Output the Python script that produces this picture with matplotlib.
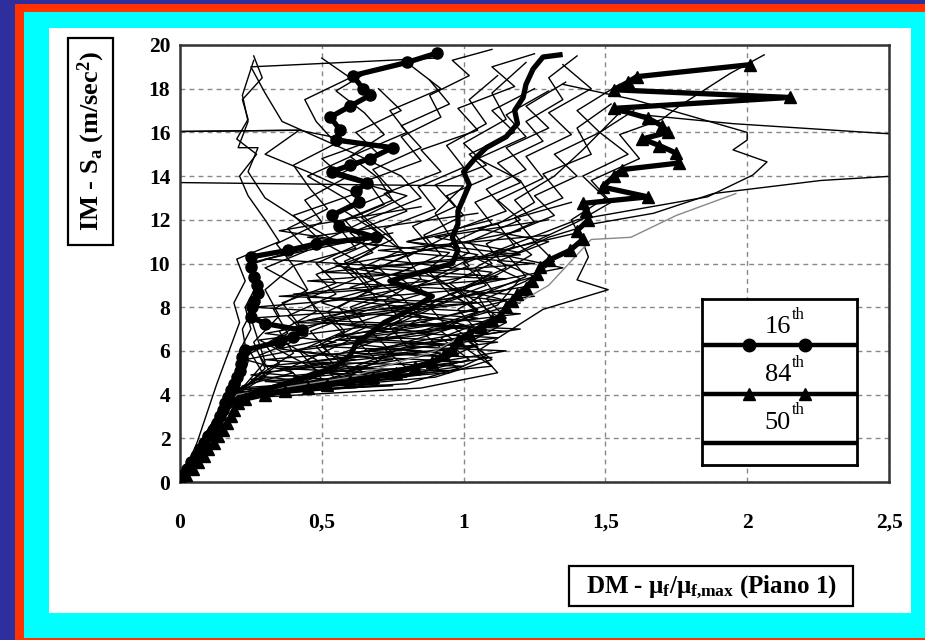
import matplotlib
matplotlib.use('Agg')
import matplotlib.pyplot as plt
from matplotlib.patches import Rectangle

plt.rcParams['font.family'] = ['Liberation Serif', 'DejaVu Serif']
plt.rcParams['mathtext.fontset'] = 'custom'
plt.rcParams['mathtext.rm'] = 'Liberation Serif:bold'
plt.rcParams['mathtext.it'] = 'Liberation Serif:bold'
plt.rcParams['mathtext.bf'] = 'Liberation Serif:bold'

# ---------------- data ----------------
x_ticks = [0, 0.5, 1, 1.5, 2, 2.5]
x_tick_labels = ['0', '0,5', '1', '1,5', '2', '2,5']
y_ticks = [0, 2, 4, 6, 8, 10, 12, 14, 16, 18, 20]
y_tick_labels = ['0', '2', '4', '6', '8', '10', '12', '14', '16', '18', '20']

# percentile curves (DM on x, IM on y)
p16_y = [0, 0.3, 0.6, 0.9, 1.2, 1.5, 1.8, 2.1, 2.4, 2.7, 3.0, 3.3, 3.6, 3.9, 4.2, 4.5, 4.8, 5.1, 5.4, 5.7,
         6.05, 6.4, 6.65, 6.95, 7.25, 7.55, 8.0, 8.3, 8.65, 9.0, 9.4, 9.85, 10.3, 10.6, 10.9, 11.2, 11.7, 12.2,
         12.8, 13.3, 13.7, 14.2, 14.5, 14.8, 15.3, 15.65, 16.1, 16.7, 17.2, 17.7, 18.0, 18.6, 19.2, 19.63]
p16_x = [0, 0.01, 0.025, 0.04, 0.055, 0.07, 0.085, 0.10, 0.115, 0.13, 0.14, 0.15, 0.16, 0.17, 0.18, 0.19, 0.20,
         0.21, 0.215, 0.22, 0.23, 0.35, 0.40, 0.43, 0.30, 0.25, 0.255, 0.26, 0.275, 0.27, 0.26, 0.25, 0.25, 0.38,
         0.48, 0.69, 0.56, 0.535, 0.63, 0.62, 0.66, 0.535, 0.60, 0.67, 0.75, 0.55, 0.565, 0.53, 0.60, 0.67, 0.645,
         0.61, 0.80, 0.906]

p50_y = [0, 1.0, 2.0, 3.0, 3.8, 4.3, 4.8, 5.3, 5.8, 6.3, 6.8, 7.3, 7.8, 8.5, 9.2, 9.6, 10.0, 10.6, 11.2, 11.8,
         12.4, 13.0, 13.6, 14.2, 14.8, 15.3, 15.8, 16.4, 17.0, 17.6, 18.2, 18.9, 19.45, 19.55]
p50_x = [0, 0.045, 0.09, 0.14, 0.2, 0.32, 0.45, 0.55, 0.60, 0.62, 0.67, 0.72, 0.80, 0.89, 0.74, 0.85, 0.96, 0.98,
         0.96, 0.98, 0.98, 1.0, 1.02, 1.0, 1.04, 1.08, 1.15, 1.19, 1.18, 1.21, 1.22, 1.245, 1.28, 1.34]

p84_y = [0, 0.3, 0.6, 0.9, 1.2, 1.5, 1.8, 2.1, 2.4, 2.7, 3.0, 3.3, 3.6, 3.8, 4.0, 4.15, 4.3, 4.45, 4.6, 4.8,
         5.0, 5.25, 5.5, 5.8, 6.1, 6.5, 6.8, 7.1, 7.4, 7.6, 8.0, 8.3, 8.6, 8.9, 9.2, 9.5, 9.85, 10.15, 10.6, 11.1,
         11.5, 12.0, 12.4, 12.75, 13.05, 13.5, 14.0, 14.3, 14.6, 15.05, 15.4, 15.7, 16.0, 16.3, 16.65, 17.1, 17.6,
         17.95, 18.3, 18.55, 19.1]
p84_x = [0, 0.02, 0.045, 0.065, 0.085, 0.10, 0.12, 0.135, 0.15, 0.165, 0.18, 0.19, 0.205, 0.23, 0.30, 0.37, 0.45,
         0.52, 0.60, 0.68, 0.76, 0.83, 0.89, 0.93, 0.96, 0.98, 1.02, 1.06, 1.10, 1.13, 1.15, 1.17, 1.19, 1.22, 1.24,
         1.26, 1.27, 1.30, 1.375, 1.42, 1.40, 1.44, 1.43, 1.42, 1.65, 1.49, 1.53, 1.56, 1.76, 1.75, 1.69, 1.63, 1.72,
         1.70, 1.65, 1.53, 2.15, 1.53, 1.58, 1.61, 2.01]

# individual IDA curves (thin lines)
t01_x = [0, 0.10, 0.19, 0.42, 0.58, 0.50, 0.66, 0.60, 0.78, 0.70, 0.88, 0.82, 0.97, 0.90, 1.08, 1.00, 1.15, 1.10, 1.22]
t01_y = [0, 2.0, 3.9, 4.5, 5.3, 6.2, 7.1, 8.0, 8.9, 9.8, 10.8, 11.7, 12.6, 13.6, 14.5, 15.5, 16.6, 17.8, 19.2]
t02_x = [0, 0.09, 0.18, 0.65, 0.90, 1.05, 0.95, 1.12, 1.20, 1.05, 1.25, 1.18, 1.35, 1.28, 1.45, 1.40, 1.52]
t02_y = [0, 2.0, 4.0, 4.6, 5.4, 6.3, 7.2, 8.1, 9.3, 10.2, 11.0, 12.1, 13.0, 14.1, 15.0, 16.2, 17.3]
t03_x = [0, 0.08, 0.17, 0.30, 0.25, 0.38, 0.33, 0.45, 0.40, 0.62, 0.55, 0.72, 0.66, 0.85, 0.78, 0.92, 0.88, 1.02, 0.96, 1.10]
t03_y = [0, 2.0, 3.8, 4.8, 5.9, 6.8, 7.9, 8.8, 9.9, 10.7, 11.8, 12.7, 13.8, 14.7, 15.8, 16.7, 17.7, 18.6, 19.3, 19.8]
t04_x = [0, 0.09, 0.20, 0.24, 0.22, 0.28, 0.26, 0.50, 0.40, 0.62, 0.45, 0.30, 0.42, -0.30]
t04_y = [0, 2.0, 4.1, 5.5, 7.0, 8.5, 10.0, 11.0, 12.2, 13.2, 14.2, 15.0, 16.1, 16.0]
t05_x = [0, 0.06, 0.13, 0.21, 0.19, 0.23, 0.20, 0.35, 0.30, 0.24, 0.21, 0.27, 0.20, 0.24, 0.22, 0.29, 0.26]
t05_y = [0, 1.8, 4.5, 7.3, 8.2, 9.2, 10.2, 11.0, 12.0, 13.1, 14.0, 15.0, 15.7, 16.6, 17.5, 18.5, 19.5]
t06_x = [0, 0.10, 0.20, 0.70, 0.95, 0.85, 1.05, 0.98, 1.15, 1.08, 1.25, 1.18, 1.32, 1.42, 1.55, 1.95, 2.90]
t06_y = [0, 2.0, 4.2, 4.9, 5.8, 6.9, 7.8, 8.8, 9.8, 10.9, 11.9, 12.9, 14.0, 15.2, 16.9, 16.4, 15.6]
t07_x = [0, 0.10, 0.21, 0.75, 1.02, 0.92, 1.10, 1.05, 1.22, 1.16, 1.30, 1.45, 1.67, 1.88, 2.26, 2.90]
t07_y = [0, 2.0, 4.1, 4.7, 5.6, 6.6, 7.5, 8.5, 9.4, 10.3, 11.2, 11.8, 12.3, 13.2, 13.8, 14.3]
t08_x = [0, 0.09, 0.19, 0.55, 0.80, 0.72, 0.95, 0.88, 1.08, 1.00, 1.20, 1.40, 1.86, 2.02, 2.07, 1.95, 2.00, 2.00, 1.60, 1.35]
t08_y = [0, 2.0, 3.9, 4.5, 5.2, 6.1, 7.0, 8.0, 9.0, 10.0, 11.0, 12.0, 13.05, 14.05, 14.65, 15.2, 15.65, 16.0, 17.5, 18.2]
t09_x = [0, 0.10, 0.20, 0.60, 0.90, 1.10, 1.30, 1.45, 1.59, 1.75, 1.96]
t09_y = [0, 2.0, 4.0, 4.8, 6.0, 7.5, 9.0, 11.1, 11.2, 12.2, 13.2]
t10_x = [0, 0.10, 0.20, 0.50, 0.70, 0.62, 0.78, 0.72, 0.85, 0.80, 0.95, 0.90, 1.00, -0.30]
t10_y = [0, 2.0, 4.0, 4.6, 5.5, 6.5, 7.4, 8.3, 9.3, 10.3, 11.3, 12.3, 13.55, 13.75]
t11_x = [0, 0.08, 0.18, 0.35, 0.48, 0.42, 0.58, 0.52, 0.68, 0.62, 0.78, 0.72, 0.90, 0.84, 1.00, 0.94, 1.08, 1.02, 1.12]
t11_y = [0, 2.0, 4.0, 4.4, 5.1, 6.0, 6.9, 7.8, 8.8, 9.7, 10.6, 11.6, 12.5, 13.5, 14.4, 15.4, 16.4, 17.5, 18.6]
t12_x = [0, 0.09, 0.17, 0.85, 1.12, 1.05, 1.28, 1.51, 1.40, 1.44, 1.42, 1.38, 1.50, 1.42, 1.58, 1.48, 1.60]
t12_y = [0, 2.0, 3.8, 4.3, 5.0, 6.0, 7.9, 8.8, 9.25, 10.3, 11.0, 12.0, 13.0, 14.0, 15.0, 16.0, 17.0]
t13_x = [0, 0.10, 0.20, 0.32, 0.28, 0.45, 0.38, 0.55, 0.48, 0.68, 0.60, 0.80, 0.72, 0.92, 0.85, 1.05, 0.98, 1.18, 1.10, 1.25]
t13_y = [0, 2.1, 4.2, 5.0, 5.8, 6.7, 7.6, 8.6, 9.5, 10.5, 11.4, 12.4, 13.2, 14.2, 15.2, 16.1, 17.1, 18.1, 19.0, 19.6]
t14_x = [0, 0.09, 0.18, 0.60, 0.75, 0.68, 0.82, 0.95, 0.88, 1.02, 0.96, 1.15, 1.08, 1.22, 1.15, 1.30, 1.22, 1.36]
t14_y = [0, 2.0, 4.0, 4.9, 5.9, 6.8, 7.7, 8.6, 9.6, 10.5, 11.5, 12.4, 13.4, 14.3, 15.3, 16.2, 17.2, 18.3]
t15_x = [0, 0.08, 0.16, 0.40, 0.62, 0.55, 0.72, 0.85, 0.78, 0.65, 0.80, 0.70, 0.58, 0.75, 0.68, 0.85, 0.78, 0.95, 0.88]
t15_y = [0, 2.0, 3.7, 4.2, 4.9, 5.8, 6.6, 7.5, 8.5, 9.5, 10.4, 11.4, 12.4, 13.3, 14.3, 15.3, 16.3, 17.3, 18.4]
t16_x = [0, 0.10, 0.21, 0.95, 1.08, 1.00, 1.15, 1.08, 1.22, 1.32, 1.25, 1.40, 1.52, 1.45, 1.62, 1.55, 1.70, 1.76, 1.94, 2.06]
t16_y = [0, 2.0, 4.3, 5.0, 5.8, 6.7, 7.5, 8.4, 9.2, 10.1, 11.0, 11.9, 12.8, 13.8, 14.8, 15.9, 16.6, 17.2, 18.7, 19.55]
t17_x = [0, 0.09, 0.19, 0.50, 0.45, 0.60, 0.52, 0.70, 0.64, 0.58, 0.75, 0.66, 0.85, 0.78, 0.62, 0.80, 0.74, 0.92, 0.82]
t17_y = [0, 2.0, 4.0, 4.7, 5.6, 6.5, 7.5, 8.3, 9.2, 10.1, 11.1, 12.0, 13.0, 14.0, 15.0, 16.0, 17.0, 18.0, 19.0]
t18_x = [0, 0.10, 0.20, 0.28, 0.40, 0.35, 0.48, 0.44, 0.30, 0.45, 0.38, 0.52, 0.46, 0.40, 0.55, 0.48, 0.44, 0.60, 0.50]
t18_y = [0, 2.0, 4.0, 4.9, 5.9, 6.9, 7.8, 8.8, 9.8, 10.6, 11.6, 12.5, 13.4, 14.5, 15.5, 16.5, 17.5, 18.5, 19.4]
t19_x = [0, 0.09, 0.18, 0.70, 0.62, 0.80, 0.74, 0.90, 0.84, 1.02, 0.95, 1.10, 1.04, 1.20, 1.12, 1.28, 1.22, 1.35, 1.30, 1.40]
t19_y = [0, 2.0, 3.9, 4.4, 5.3, 6.2, 7.1, 8.0, 9.0, 9.9, 10.9, 11.8, 12.8, 13.7, 14.6, 15.6, 16.5, 17.5, 18.5, 19.5]
t20_x = [0, 0.08, 0.17, 0.26, 0.35, 0.30, 0.42, 0.36, 0.55, 0.48, 0.65, 0.58, 0.75, 0.70, 0.60, 0.72, 0.65, 0.55, 0.68]
t20_y = [0, 2.0, 3.8, 4.6, 5.4, 6.3, 7.2, 8.2, 9.1, 10.0, 11.0, 12.0, 12.9, 13.9, 14.9, 15.9, 16.9, 17.9, 18.9]
t21_x = [0, 0.10, 0.20, 0.22, 0.21, 0.25, 0.23, 0.27, 0.24, 0.55, 0.42, 0.30, 0.24, 0.275, 0.205, 0.24, 0.22, 0.26]
t21_y = [0, 2.0, 4.0, 5.0, 6.0, 7.0, 8.0, 9.0, 10.0, 11.0, 12.0, 13.0, 14.2, 15.3, 15.3, 16.5, 17.7, 19.3]
t22_x = [0, 0.10, 0.20, 0.35, 0.55, 0.48, 0.62, 0.56, 0.70, 0.64, 0.50, 0.66, 0.58, 0.45, 0.62, 0.36, 0.30, 0.25, 0.90]
t22_y = [0, 2.0, 4.0, 4.5, 5.3, 6.2, 7.1, 8.0, 9.0, 10.0, 11.0, 12.0, 13.0, 14.0, 15.0, 16.5, 17.8, 19.0, 19.4]
t23_x = [0, 0.09, 0.19, 0.80, 0.98, 0.90, 1.05, 0.98, 1.10, 1.04, 1.18, 1.12, 1.25, 1.20, 1.05, 1.22, 1.15, 1.30]
t23_y = [0, 2.0, 4.0, 4.5, 5.2, 6.0, 6.9, 7.9, 8.8, 9.8, 10.8, 11.8, 12.8, 13.8, 14.8, 15.8, 16.8, 17.9]
t24_x = [0, 0.10, 0.20, 1.10, 1.02, 0.92, 1.05, 0.96, 1.12, 1.24, 1.15, 1.32, 1.25, 1.40, 1.32, 1.48, 1.40, 1.55]
t24_y = [0, 2.0, 4.1, 5.3, 6.0, 6.9, 7.8, 8.6, 9.5, 10.4, 11.3, 12.2, 13.1, 14.0, 15.0, 16.0, 17.0, 18.2]
t25_x = [0, 0.09, 0.18, 0.45, 0.38, 0.52, 0.46, 0.62, 0.85, 0.76, 0.92, 0.86, 1.00, 0.94, 1.10, 1.02, 1.18, 1.10, 1.25]
t25_y = [0, 2.0, 3.9, 4.4, 5.2, 6.0, 6.9, 7.7, 8.6, 9.5, 10.4, 11.3, 12.2, 13.1, 14.0, 15.0, 16.0, 17.0, 18.0]
t26_x = [0, 0.08, 0.17, 0.55, 0.48, 0.35, 0.52, 0.45, 0.62, 0.54, 0.72, 0.64, 0.80, 0.55, 0.70, 0.62, 0.78, 0.70]
t26_y = [0, 2.0, 3.8, 4.7, 5.6, 6.5, 7.4, 8.4, 9.3, 10.2, 11.2, 12.1, 13.1, 14.0, 15.0, 16.0, 17.0, 18.0]
t27_x = [0, 0.10, 0.20, 0.90, 1.10, 1.02, 1.15, 1.06, 0.95, 1.10, 1.02, 1.20, 1.12, 1.28, 1.22, 1.38, 1.30, 1.45, 1.35]
t27_y = [0, 2.0, 4.0, 4.8, 5.6, 6.4, 7.3, 8.1, 9.1, 10.0, 11.0, 12.0, 12.9, 13.9, 14.9, 15.9, 16.9, 18.0, 19.1]
t28_x = [0, 0.10, 0.20, 0.30, 0.26, 0.35, 0.30, 0.40, 0.34, 0.50, 0.44, 0.58, 0.50, 0.65, 0.42, -0.30]
t28_y = [0, 2.0, 4.0, 5.2, 6.4, 7.6, 8.8, 9.9, 10.9, 11.9, 12.9, 13.9, 14.8, 15.5, 16.1, 16.0]
t29_x = [0, 0.10, 0.20, 0.85, 0.35, 1.05, 0.55, 1.10, 0.80, 1.00, 0.90, 1.05, 0.80, 1.12]
t29_y = [0, 2.0, 4.0, 4.9, 5.2, 6.2, 6.5, 7.3, 7.6, 8.5, 9.4, 10.4, 11.0, 11.8]
t30_x = [0, 0.10, 0.21, 0.60, 0.28, 0.75, 0.40, 0.90, 0.60, 0.80, 0.40, 0.88, 0.55, 0.95]
t30_y = [0, 2.0, 4.1, 4.6, 5.0, 5.6, 6.0, 6.8, 7.2, 8.0, 8.6, 9.2, 9.9, 10.8]
t31_x = [0, 0.09, 0.19, 1.00, 0.45, 1.12, 0.70, 1.05, 0.95, 1.12, 0.65, 1.20, 0.90, 1.30]
t31_y = [0, 2.0, 3.9, 5.3, 5.5, 6.6, 6.9, 7.9, 8.6, 9.4, 9.8, 10.5, 11.2, 12.0]
t32_x = [0, 0.10, 0.20, 0.50, 0.25, 0.62, 0.35, 0.70, 0.45, 0.78, 0.60, 0.82, 0.30, 0.75]
t32_y = [0, 2.0, 4.0, 4.5, 4.9, 5.6, 6.1, 7.0, 7.4, 8.3, 8.9, 9.8, 10.2, 11.4]
t33_x = [0, 0.09, 0.18, 0.70, 0.40, 0.95, 0.65, 1.08, 0.85, 1.15, 1.00, 1.10, 0.70, 1.20]
t33_y = [0, 2.0, 3.8, 4.5, 4.8, 5.7, 6.0, 7.0, 7.3, 8.3, 8.8, 9.6, 10.2, 11.5]
t34_x = [0, 0.10, 0.22, 0.40, 0.23, 0.55, 0.30, 0.65, 0.50, 0.72, 0.58, 0.70, 0.35, 0.85]
t34_y = [0, 2.0, 4.4, 5.0, 5.6, 6.4, 6.8, 7.6, 8.2, 9.0, 9.8, 10.8, 11.5, 12.6]
t35_x = [0, 0.10, 0.20, 1.10, 0.60, 1.15, 0.90, 1.20, 1.00, 1.25, 1.12, 1.30, 1.05, 1.38]
t35_y = [0, 2.0, 4.0, 5.7, 5.9, 6.9, 7.1, 8.2, 8.5, 9.4, 10.1, 11.0, 11.6, 12.8]
t36_x = [0, 0.09, 0.20, 0.80, 0.50, 0.92, 0.62, 1.00, 0.78, 0.98, 0.86, 0.95, 0.45, 1.05]
t36_y = [0, 2.0, 4.0, 4.8, 5.0, 5.9, 6.3, 7.2, 7.8, 8.7, 9.6, 10.5, 11.2, 12.3]
t37_x = [0, 0.10, 0.21, 0.95, 0.30, 0.85, 0.50, 1.00, 0.40, 0.90, 0.60, 1.05]
t37_y = [0, 2.0, 4.2, 5.1, 5.3, 6.0, 6.2, 7.1, 7.3, 8.1, 8.4, 9.5]
t38_x = [0, 0.09, 0.20, 0.65, 0.30, 1.00, 0.70, 1.12, 0.55, 1.20, 0.75, 1.25]
t38_y = [0, 2.0, 4.0, 4.35, 4.6, 5.5, 5.7, 6.4, 6.7, 7.7, 8.0, 9.0]
t39_x = [0, 0.10, 0.20, 0.30, 0.25, 1.05, 0.35, 1.15, 0.50, 1.20, 0.80, 1.10]
t39_y = [0, 2.0, 4.0, 5.5, 7.5, 8.2, 8.5, 9.3, 9.6, 10.4, 11.0, 12.0]
t40_x = [0, 0.09, 0.19, 0.50, 0.28, 0.90, 0.26, 1.00, 0.45, 1.25, 0.70, 1.30]
t40_y = [0, 2.0, 3.9, 5.0, 6.5, 7.5, 8.0, 8.8, 9.2, 10.0, 10.6, 11.3]
t41_x = [0, 0.10, 0.20, 1.15, 0.80, 1.20, 0.50, 1.25, 0.95, 1.35, 1.10, 1.40]
t41_y = [0, 2.0, 4.0, 6.0, 6.2, 7.0, 7.4, 8.5, 8.8, 9.8, 10.5, 11.4]
t42_x = [0, 0.10, 0.21, 0.75, 0.25, 0.68, 0.30, 0.95, 0.60, 1.05, 0.70, 1.15]
t42_y = [0, 2.0, 4.1, 4.4, 4.7, 5.2, 5.6, 6.3, 6.6, 7.5, 7.9, 8.8]

thin_black = [(t01_x, t01_y), (t02_x, t02_y), (t03_x, t03_y), (t04_x, t04_y), (t05_x, t05_y),
              (t06_x, t06_y), (t07_x, t07_y), (t08_x, t08_y), (t10_x, t10_y), (t11_x, t11_y),
              (t12_x, t12_y), (t13_x, t13_y), (t14_x, t14_y), (t15_x, t15_y), (t16_x, t16_y),
              (t17_x, t17_y), (t18_x, t18_y), (t19_x, t19_y), (t20_x, t20_y), (t21_x, t21_y),
              (t22_x, t22_y), (t23_x, t23_y), (t24_x, t24_y), (t25_x, t25_y), (t26_x, t26_y),
              (t27_x, t27_y), (t28_x, t28_y), (t29_x, t29_y), (t30_x, t30_y), (t31_x, t31_y),
              (t32_x, t32_y), (t33_x, t33_y), (t34_x, t34_y), (t35_x, t35_y), (t36_x, t36_y),
              (t37_x, t37_y), (t38_x, t38_y), (t39_x, t39_y), (t40_x, t40_y), (t41_x, t41_y),
              (t42_x, t42_y)]
thin_grey = [(t09_x, t09_y)]

legend_labels = ['16', '84', '50']

# ---------------- figure ----------------
W, H = 925, 640
fig = plt.figure(figsize=(W / 100, H / 100), dpi=100)
fig.patch.set_facecolor('#2E2E9C')


def fr(x0, y0, x1, y1):
    return [x0 / W, 1 - y1 / H, (x1 - x0) / W, (y1 - y0) / H]


def add_rect(x0, y0, x1, y1, fc, ec='none', lw=0.0, z=0):
    l, b, w, h = fr(x0, y0, x1, y1)
    fig.add_artist(Rectangle((l, b), w, h, transform=fig.transFigure, facecolor=fc,
                             edgecolor=ec, linewidth=lw, zorder=z))


add_rect(15, 4, 925, 640, '#FF3300', z=-10)
add_rect(24, 12, 925, 638, '#00FFFF', z=-9)
add_rect(49, 28, 911, 613, 'white', z=-8)

ax = fig.add_axes(fr(180, 45, 889, 482))
ax.set_xlim(0, 2.5)
ax.set_ylim(0, 20)
ax.set_xticks(x_ticks)
ax.set_xticklabels(x_tick_labels)
ax.set_yticks(y_ticks)
ax.set_yticklabels(y_tick_labels)
ax.tick_params(axis='both', length=0, labelsize=15.5)
ax.tick_params(axis='x', pad=22)
ax.tick_params(axis='y', pad=7)
for lab in ax.get_xticklabels() + ax.get_yticklabels():
    lab.set_fontweight('bold')
ax.grid(True, color='#888888', linestyle=(0, (3.5, 3)), linewidth=1.0)
ax.set_axisbelow(True)
for s in ax.spines.values():
    s.set_linewidth(1.8)
    s.set_color('#333333')

for xs, ys in thin_black:
    ax.plot(xs, ys, color='black', lw=1.0, zorder=2)
for xs, ys in thin_grey:
    ax.plot(xs, ys, color='#888888', lw=1.0, zorder=2)

ax.plot(p50_x, p50_y, color='black', lw=3.8, zorder=4)
ax.plot(p16_x, p16_y, color='black', lw=3.8, marker='o', ms=8, zorder=5)
ax.plot(p84_x, p84_y, color='black', lw=3.8, marker='^', ms=9, zorder=5)

# y label box
add_rect(68, 38, 113, 245, 'white', ec='black', lw=1.6, z=5)
fig.text(91 / W, 1 - 141.5 / H, r'IM - S$_{a}$ (m/sec$^{2}$)', rotation=90, ha='center', va='center',
         fontsize=19, fontweight='bold', zorder=6)

# x label box
add_rect(569, 566, 853, 606, 'white', ec='black', lw=1.6, z=5)
fig.text(711 / W, 1 - 587 / H, r'DM - $\mu_{f}/\mu_{f{,}max}$ (Piano 1)', ha='center', va='center',
         fontsize=18, fontweight='bold', zorder=6)

# legend box
lg = fig.add_axes(fr(702, 299, 857, 465))
lg.set_xlim(0, 1)
lg.set_ylim(0, 1)
lg.set_xticks([])
lg.set_yticks([])
lg.set_facecolor('white')
for s in lg.spines.values():
    s.set_linewidth(2.0)
    s.set_color('black')
line_y = [0.723, 0.428, 0.133]
text_y = [0.83, 0.54, 0.255]
marks = ['o', '^', None]
for lab, ly, ty, mk in zip(legend_labels, line_y, text_y, marks):
    lg.plot([0, 1], [ly, ly], color='black', lw=3.2)
    if mk:
        lg.plot([0.303, 0.665], [ly, ly], linestyle='none', marker=mk, ms=9, color='black')
    lg.text(0.575, ty, lab, ha='right', va='center', fontsize=19)
    lg.text(0.58, ty + 0.075, 'th', ha='left', va='center', fontsize=12)

fig.savefig('out.png', dpi=100, facecolor=fig.get_facecolor())
